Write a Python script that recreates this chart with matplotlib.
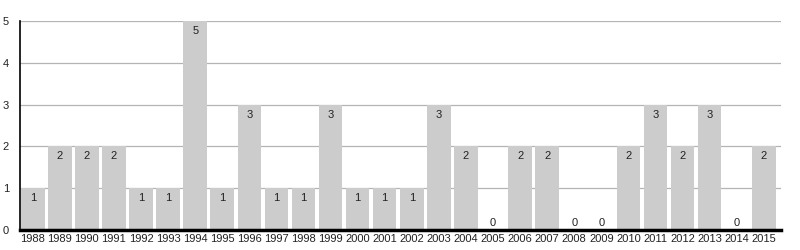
import matplotlib.pyplot as plt

years = [str(y) for y in range(1988, 2016)]
counts = [1, 2, 2, 2, 1, 1, 5, 1, 3, 1, 1, 3, 1, 1, 1, 3, 2, 0, 2, 2, 0, 0, 2, 3, 2, 3, 0, 2]

plt.rcParams['font.family'] = ['Liberation Sans', 'DejaVu Sans']

fig = plt.figure(figsize=(8, 2.5), dpi=100)
ax = fig.add_axes([0.025, 0.08, 0.951, 0.836])

x = range(len(years))
ax.bar(x, counts, width=0.87, color='#cccccc', zorder=2)

for i, v in enumerate(counts):
    if v > 0:
        ax.text(i, v - 0.12, str(v), ha='center', va='top', fontsize=8, color='#222222', zorder=3)
    else:
        ax.text(i, 0.05, str(v), ha='center', va='bottom', fontsize=8, color='#222222', zorder=3)

ax.set_xlim(-0.47, 27.63)
ax.set_ylim(0, 5)
ax.set_yticks([0, 1, 2, 3, 4, 5])
ax.yaxis.grid(True, color='#b4b4b4', linewidth=0.9, zorder=1)
ax.set_xticks(list(x))
ax.set_xticklabels(years)
ax.tick_params(axis='both', length=0, labelsize=8, colors='#222222')
ax.tick_params(axis='x', pad=3)
ax.tick_params(axis='y', pad=8)

for side in ['top', 'right']:
    ax.spines[side].set_visible(False)
ax.spines['left'].set_linewidth(1.2)
ax.spines['bottom'].set_linewidth(2.5)
ax.spines['bottom'].set_zorder(4)

fig.savefig('out.png', dpi=100)
